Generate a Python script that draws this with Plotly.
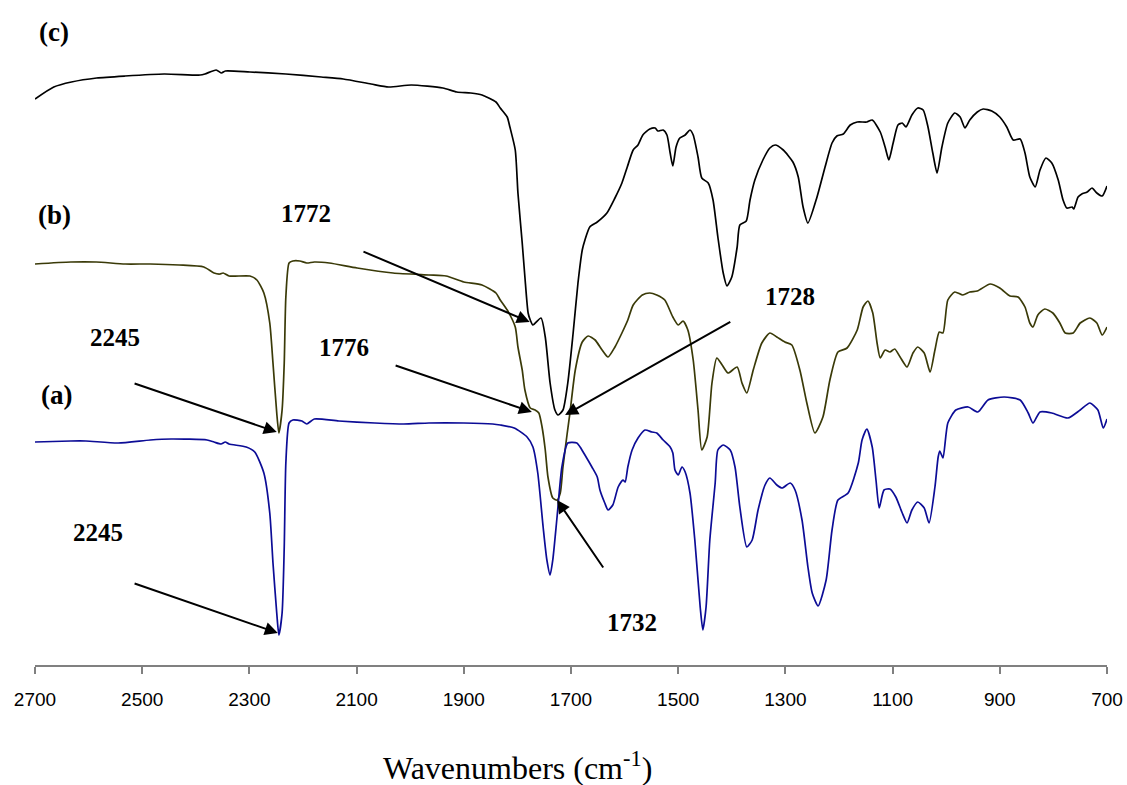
import plotly.graph_objects as go

# ---- spectrum (c): black ----
wn_c = [2700, 2665, 2632, 2585, 2532, 2459, 2392, 2383, 2362, 2352, 2345, 2299, 2232, 2166, 2125, 2073,
        2040, 1998, 1939, 1913, 1887, 1866, 1840, 1832, 1819, 1814, 1804, 1799, 1791, 1786, 1780, 1776,
        1771, 1756, 1748, 1739, 1730, 1724, 1715, 1706, 1696, 1687, 1679, 1674, 1665, 1651, 1633, 1618,
        1605, 1595, 1584, 1575, 1566, 1553, 1543, 1538, 1528, 1521, 1515, 1510, 1504, 1497, 1487, 1478,
        1472, 1463, 1456, 1444, 1435, 1426, 1416, 1409, 1400, 1390, 1385, 1373, 1366, 1357, 1342, 1329,
        1319, 1304, 1286, 1276, 1267, 1258, 1241, 1226, 1213, 1204, 1192, 1179, 1166, 1148, 1138, 1123,
        1114, 1107, 1099, 1090, 1082, 1075, 1064, 1053, 1043, 1034, 1025, 1017, 1008, 997, 984, 974,
        965, 956, 942, 931, 915, 900, 887, 875, 862, 853, 844, 834, 825, 814, 803, 791, 782, 775, 765,
        762, 754, 747, 737, 728, 719, 709, 700]
t_c = [566, 578, 583, 587, 589, 591, 590, 591, 595, 592, 594, 593, 591, 588, 586, 581,
       578, 580, 577, 573, 572, 570, 563, 557, 548, 538, 515, 472, 422, 388, 352, 345,
       340, 347, 328, 282, 255, 250, 255, 282, 332, 382, 415, 425, 438, 443, 452, 467,
       482, 498, 515, 520, 530, 536, 537, 534, 535, 530, 512, 499, 518, 527, 530, 535,
       530, 508, 487, 482, 465, 428, 392, 379, 388, 418, 440, 444, 465, 485, 505, 517,
       520, 515, 503, 488, 458, 442, 468, 498, 522, 529, 531, 540, 543, 543, 545, 533,
       518, 505, 522, 540, 542, 538, 550, 557, 555, 538, 512, 492, 518, 542, 552, 548,
       537, 545, 553, 556, 554, 548, 538, 525, 526, 512, 488, 478, 495, 507, 502, 485, 465, 457, 458,
       456, 468, 471, 473, 477, 472, 469, 479]

# ---- spectrum (b): olive ----
wn_b = [2700, 2633, 2586, 2532, 2485, 2431, 2385, 2366, 2355, 2349, 2338, 2299, 2286, 2273, 2262, 2256,
        2249, 2245, 2239, 2235, 2232, 2226, 2219, 2206, 2193, 2179, 2151, 2099, 2032, 1965, 1933, 1900,
        1866, 1840, 1832, 1819, 1804, 1799, 1791, 1786, 1776, 1767, 1760, 1754, 1748, 1743, 1734, 1726,
        1720, 1715, 1707, 1702, 1692, 1679, 1668, 1655, 1642, 1631, 1618, 1605, 1594, 1584, 1567, 1553,
        1540, 1525, 1510, 1500, 1491, 1482, 1472, 1463, 1456, 1446, 1437, 1428, 1418, 1407, 1390, 1381,
        1372, 1360, 1344, 1329, 1316, 1301, 1288, 1273, 1260, 1245, 1230, 1217, 1202, 1185, 1166, 1155,
        1146, 1137, 1129, 1123, 1114, 1105, 1096, 1086, 1073, 1062, 1053, 1041, 1030, 1021, 1013, 1006,
        997, 984, 969, 956, 942, 918, 900, 881, 866, 853, 844, 838, 829, 816, 801, 788, 778, 763, 750,
        732, 719, 709, 700]
t_b = [401, 403, 403, 401, 401, 400, 398, 392, 391, 392, 389, 389, 385, 372, 342, 302,
       252, 232, 255, 302, 368, 402, 404, 404, 402, 403, 402, 397, 392, 390, 389, 383,
       380, 372, 365, 355, 338, 318, 295, 275, 257, 255, 252, 238, 215, 188, 167, 165,
       172, 198, 232, 252, 295, 323, 329, 325, 315, 308, 318, 332, 345, 360, 370, 372,
       370, 365, 348, 340, 344, 335, 305, 255, 215, 228, 282, 307, 300, 292, 298, 282,
       272, 295, 322, 332, 328, 323, 320, 295, 262, 232, 248, 285, 313, 317, 335, 358,
       364, 352, 322, 307, 315, 313, 316, 308, 298, 312, 318, 312, 293, 315, 333, 332,
       365, 373, 370, 373, 374, 381, 377, 369, 368, 358, 342, 338, 350, 356, 352, 342, 332, 332, 342,
       347, 342, 330, 338]

# ---- spectrum (a): blue ----
wn_a = [2700, 2633, 2605, 2545, 2485, 2446, 2379, 2366, 2353, 2345, 2338, 2306, 2290, 2273, 2262, 2256,
        2249, 2245, 2239, 2235, 2232, 2226, 2219, 2202, 2193, 2179, 2133, 2066, 2012, 1965, 1900, 1846,
        1832, 1806, 1782, 1771, 1762, 1752, 1745, 1739, 1734, 1726, 1717, 1706, 1689, 1683, 1674, 1661,
        1651, 1646, 1637, 1631, 1622, 1612, 1603, 1599, 1594, 1586, 1575, 1562, 1549, 1540, 1528, 1515,
        1510, 1506, 1500, 1493, 1487, 1478, 1469, 1459, 1454, 1448, 1441, 1431, 1426, 1416, 1403, 1394,
        1385, 1372, 1362, 1351, 1338, 1329, 1316, 1306, 1291, 1282, 1269, 1258, 1250, 1239, 1224, 1213,
        1202, 1183, 1164, 1157, 1148, 1138, 1131, 1125, 1116, 1105, 1094, 1082, 1073, 1064, 1053, 1041,
        1032, 1021, 1015, 1012, 1006, 997, 982, 959, 941, 922, 892, 862, 847, 838, 825, 803, 773, 750,
        732, 717, 707, 700]
t_a = [223, 224, 224, 222, 225, 226, 225, 223, 221, 223, 221, 218, 213, 192, 152, 102,
       52, 30, 52, 118, 202, 242, 245, 244, 241, 246, 244, 242, 241, 242, 242, 241,
       240, 237, 228, 218, 192, 138, 105, 90, 105, 148, 198, 222, 222, 218, 210, 198,
       188, 175, 162, 155, 160, 178, 185, 183, 198, 215, 227, 235, 233, 232, 225, 218,
       212, 195, 190, 198, 193, 172, 125, 58, 35, 58, 125, 182, 215, 220, 215, 198,
       158, 118, 125, 155, 180, 187, 180, 177, 182, 175, 145, 98, 72, 59, 85, 135,
       165, 172, 202, 225, 236, 218, 185, 157, 175, 176, 168, 152, 142, 155, 163, 157,
       142, 178, 208, 214, 207, 242, 255, 258, 253, 265, 268, 265, 252, 242, 253, 252, 247, 255,
       262, 255, 237, 246]

tick_vals = [2700, 2500, 2300, 2100, 1900, 1700, 1500, 1300, 1100, 900, 700]
tick_text = [str(v) for v in tick_vals]

# labels: (text, x, y)
curve_labels = [("(c)", 2665, 633), ("(b)", 2663, 450), ("(a)", 2659, 270)]
peak_labels = [("1772", 2194, 452), ("1776", 2124, 318), ("2245", 2551, 328),
               ("2245", 2583, 133), ("1728", 1291, 369), ("1732", 1586, 43)]
# arrows: (tip_x, tip_y, tail_x, tail_y)
arrows = [(1777, 343, 2090, 414), (1773, 253, 2030, 300), (2249, 233, 2517, 282),
          (2247, 32, 2517, 82), (1711, 250, 1400, 344), (1726, 165, 1638, 96)]

fig = go.Figure()
for xs, ys, col in [(wn_c, t_c, "#000000"), (wn_b, t_b, "#3a3a08"), (wn_a, t_a, "#0c0c96")]:
    fig.add_trace(go.Scatter(x=xs, y=ys, mode="lines",
                             line=dict(color=col, width=1.7, shape="spline", smoothing=0.6),
                             showlegend=False, hoverinfo="skip"))

for txt, x, y in curve_labels:
    fig.add_annotation(x=x, y=y, text="<b>%s</b>" % txt, showarrow=False,
                       font=dict(family="Liberation Serif", size=27, color="black"))
for txt, x, y in peak_labels:
    fig.add_annotation(x=x, y=y, text="<b>%s</b>" % txt, showarrow=False,
                       font=dict(family="Liberation Serif", size=25, color="black"))
for tx, ty, ax, ay in arrows:
    fig.add_annotation(x=tx, y=ty, ax=ax, ay=ay, xref="x", yref="y", axref="x", ayref="y",
                       text="", showarrow=True, arrowhead=2, arrowsize=1.3, arrowwidth=2,
                       arrowcolor="black", standoff=0)

fig.add_annotation(xref="paper", yref="paper", x=(517 - 35) / 1072, y=-(766 - 665) / 665,
                   text="Wavenumbers (cm<sup>-1</sup>)", showarrow=False, yanchor="middle",
                   font=dict(family="Liberation Serif", size=32, color="black"))

fig.update_layout(
    width=1127, height=785,
    margin=dict(l=35, r=20, t=0, b=120),
    paper_bgcolor="white", plot_bgcolor="white",
    xaxis=dict(range=[2700, 700], tickvals=tick_vals, ticktext=tick_text,
               showgrid=False, zeroline=False, showline=True, linecolor="#808080", linewidth=1.5,
               ticks="outside", ticklen=7, tickcolor="#808080", tickwidth=1.5,
               ticklabelstandoff=9,
               tickfont=dict(family="Liberation Sans", size=19, color="black")),
    yaxis=dict(range=[0, 665], visible=False),
)
fig.write_html("out.html")
